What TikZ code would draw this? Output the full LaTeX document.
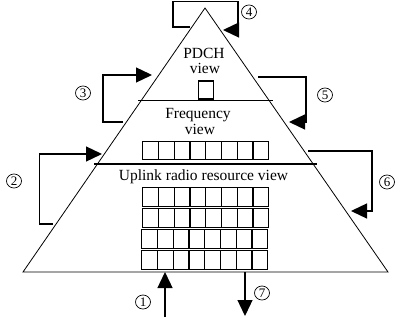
\documentclass[tikz,border=0pt]{standalone}
\usepackage{fontspec}
\setmainfont{Liberation Serif}
\usetikzlibrary{arrows.meta,shapes.geometric}
\begin{document}
\begin{tikzpicture}[x=1pt,y=-1pt,
 tri/.style={line width=0.8pt, line join=miter},
 divider/.style={line width=1.3pt},
 conn/.style={line width=1.3pt, line join=miter, -{Triangle[length=16pt,width=15pt]}},
 cell/.style={draw, line width=1.4pt, minimum width=15.75pt, minimum height=18.5pt, inner sep=0pt, anchor=north west},
 num/.style={draw, ellipse, line width=0.7pt, minimum width=15pt, minimum height=14pt, inner sep=0pt, font=\fontsize{13}{13}\selectfont},
 lbl/.style={font=\fontsize{15.5}{18}\selectfont, anchor=base, inner sep=0pt}
]
\useasboundingbox (0,0) rectangle (395,323);

% pyramid
\coordinate (apex) at (205,8);
\coordinate (bl) at (23,272);
\coordinate (br) at (388,272);
\draw[tri] (bl) -- (apex) -- (br) -- cycle;

% level dividers
\coordinate (d1l) at (138,100.5);
\coordinate (d1r) at (273,100.5);
\coordinate (d2l) at (94,164);
\coordinate (d2r) at (317,164);
\draw[divider] (d1l) -- (d1r);
\draw[divider] (d2l) -- (d2r);

% texts
\node[lbl] (pdch) at (204,59) {PDCH};
\node[lbl] (pview) at (205,74) {view};
\node[lbl] (freq) at (198,118) {Frequency};
\node[lbl] (fview) at (200,135) {view};
\node[lbl] (uplink) at (203.5,180) {Uplink radio resource view};

% PDCH box
\node[draw, line width=1.3pt, minimum width=15pt, minimum height=18pt, inner sep=0pt, anchor=north west] (pbox) at (197.5,80.5) {};

% frequency row
\foreach \i in {0,...,7} {
  \node[cell, minimum height=18pt] (f\i) at ({142+15.75*\i},141) {};
}
% uplink grid
\foreach \r/\y/\x in {1/187/142, 2/208/142, 3/229/141, 4/250/141} {
  \foreach \i in {0,...,7} {
    \node[cell] (u\r\i) at ({\x+15.75*\i},\y) {};
  }
}

% connector points
\coordinate (s4) at (190,27);
\coordinate (a4) at (173,27);
\coordinate (b4) at (173,1.6);
\coordinate (c4) at (238,1.6);
\coordinate (d4) at (238,30);
\coordinate (t4) at (223,30);

\coordinate (s3) at (123,122);
\coordinate (a3) at (103,122);
\coordinate (b3) at (103,75);
\coordinate (t3) at (152,75);

\coordinate (s2) at (53,224);
\coordinate (a2) at (39.5,224);
\coordinate (b2) at (39.5,154);
\coordinate (t2) at (102,154);

\coordinate (s5) at (258,77);
\coordinate (a5) at (306,77);
\coordinate (b5) at (306,122);
\coordinate (t5) at (289,122);

\coordinate (s6) at (308,151);
\coordinate (a6) at (372,151);
\coordinate (b6) at (372,211);
\coordinate (t6) at (351,211);

\coordinate (s1) at (165,317);
\coordinate (t1) at (165,272);
\coordinate (s7) at (245,272);
\coordinate (t7) at (245,316);

\draw[conn] (s4) -- (a4) -- (b4) -- (c4) -- (d4) -- (t4);
\draw[conn] (s3) -- (a3) -- (b3) -- (t3);
\draw[conn] (s2) -- (a2) -- (b2) -- (t2);
\draw[conn] (s5) -- (a5) -- (b5) -- (t5);
\draw[conn] (s6) -- (a6) -- (b6) -- (t6);
\draw[conn] (s1) -- (t1);
\draw[conn] (s7) -- (t7);

% circled numbers
\node[num] (n1) at (143,302) {1};
\node[num] (n2) at (14,181) {2};
\node[num] (n3) at (83,93) {3};
\node[num] (n4) at (249,12) {4};
\node[num] (n5) at (325,95) {5};
\node[num] (n6) at (387,182) {6};
\node[num] (n7) at (262,293) {7};
\end{tikzpicture}
\end{document}
